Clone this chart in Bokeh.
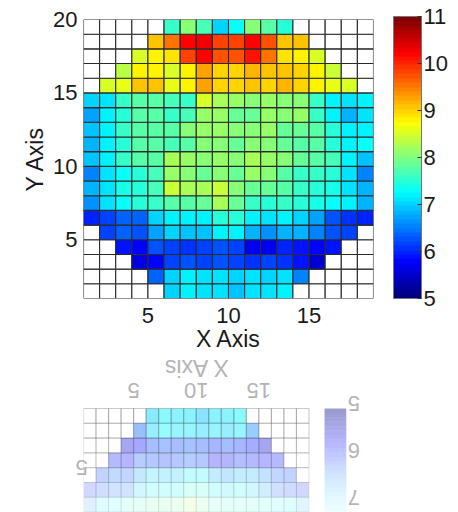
import numpy as np
from bokeh.plotting import figure
from bokeh.models import (ColumnDataSource, LinearColorMapper, ColorBar, FixedTicker, Range1d)
from bokeh.transform import transform
from bokeh.layouts import column
from bokeh.embed import file_html
from bokeh.resources import INLINE
from bokeh.core.properties import value

N = None
# cells: columns x = 1..18 (each spans [x, x+1]); rows y = 1..19 (each spans [y, y+1])
col_x = list(range(1, 19))
row_19 = [N, N, N, N, N, 7.55, 8.0, 7.7, 7.0, 7.3, 8.0, 7.75, 7.5, N, N, N, N, N]
row_18 = [N, N, N, N, 9.1, 9.5, 10.2, 10.3, 9.8, 9.8, 10.2, 9.7, 9.1, 9.1, N, N, N, N]
row_17 = [N, N, N, 8.5, 8.8, 8.9, 9.8, 10.2, 9.7, 9.7, 10.1, 9.5, 8.9, 8.8, 8.5, N, N, N]
row_16 = [N, N, 8.3, 8.8, 8.8, 8.5, 8.8, 9.3, 9.0, 9.0, 9.2, 9.1, 9.1, 9.0, 8.8, 8.4, N, N]
row_15 = [N, 8.5, 8.6, 9.1, 9.1, 8.6, 8.8, 9.3, 9.0, 9.0, 9.1, 9.0, 9.2, 9.0, 8.8, 8.6, 8.5, N]
row_14 = [7.0, 7.1, 7.55, 7.8, 7.8, 7.7, 7.6, 8.5, 8.2, 8.1, 8.0, 8.1, 8.0, 8.0, 7.6, 7.2, 7.1, 7.2]
row_13 = [6.7, 7.2, 7.5, 7.8, 7.8, 7.6, 7.7, 8.1, 8.1, 7.9, 7.9, 8.1, 8.0, 8.1, 7.6, 7.2, 6.8, 7.1]
row_12 = [6.9, 7.2, 7.6, 7.8, 7.8, 7.8, 8.0, 8.1, 8.1, 8.0, 8.0, 8.1, 7.9, 7.9, 7.8, 7.5, 7.2, 7.2]
row_11 = [6.8, 7.2, 7.5, 7.8, 7.8, 7.7, 7.8, 8.0, 8.0, 7.9, 8.0, 8.0, 7.9, 7.8, 7.8, 7.5, 7.2, 7.3]
row_10 = [6.9, 7.2, 7.6, 7.8, 7.8, 8.2, 8.1, 8.0, 8.1, 8.0, 8.2, 8.1, 8.0, 7.9, 7.8, 7.7, 7.2, 6.9]
row_9 = [6.5, 7.1, 7.3, 7.5, 7.7, 8.1, 8.0, 7.9, 8.0, 7.9, 8.1, 8.0, 7.8, 7.6, 7.6, 7.5, 7.1, 6.5]
row_8 = [6.8, 7.1, 7.4, 7.5, 7.7, 8.4, 8.2, 8.2, 8.4, 8.0, 7.9, 7.9, 7.8, 7.6, 7.5, 7.4, 7.1, 6.8]
row_7 = [6.6, 7.1, 7.3, 7.5, 7.6, 7.8, 7.8, 7.9, 8.2, 7.9, 7.6, 7.5, 7.6, 7.5, 7.4, 7.3, 7.2, 6.8]
row_6 = [6.0, 6.2, 6.4, 6.4, 7.0, 7.2, 7.2, 7.2, 7.5, 7.5, 7.2, 7.1, 7.2, 7.0, 6.7, 6.3, 6.1, 6.0]
row_5 = [N, 6.2, 6.4, 6.3, 6.7, 7.0, 6.9, 6.9, 7.2, 7.2, 6.8, 6.6, 6.8, 6.8, 6.5, 6.3, 6.2, N]
row_4 = [N, N, 5.9, 5.8, 6.3, 6.2, 6.1, 6.2, 6.3, 6.2, 5.7, 5.7, 6.0, 5.9, 5.8, 5.9, N, N]
row_3 = [N, N, N, 5.6, 5.8, 6.2, 6.3, 6.2, 6.3, 6.2, 6.1, 6.2, 6.1, 5.9, 5.5, N, N, N]
row_2 = [N, N, N, N, 6.4, 7.0, 7.2, 7.1, 7.1, 7.0, 7.1, 7.0, 7.1, 6.5, N, N, N, N]
row_1 = [N, N, N, N, N, 7.0, 7.2, 7.1, 7.1, 6.9, 7.1, 7.1, 7.2, N, N, N, N, N]
rows = {1: row_1, 2: row_2, 3: row_3, 4: row_4, 5: row_5, 6: row_6, 7: row_7, 8: row_8,
        9: row_9, 10: row_10, 11: row_11, 12: row_12, 13: row_13, 14: row_14, 15: row_15,
        16: row_16, 17: row_17, 18: row_18, 19: row_19}

x_ticks = [5, 10, 15]
y_ticks = [5, 10, 15, 20]
cbar_ticks = [5, 6, 7, 8, 9, 10, 11]
z_low, z_high = 5, 11
x_title, y_title = "X Axis", "Y Axis"


def jet(n=64):
    out = []
    for i in range(n):
        t = i / (n - 1)
        r = min(max(1.5 - abs(4 * t - 3), 0), 1)
        g = min(max(1.5 - abs(4 * t - 2), 0), 1)
        b = min(max(1.5 - abs(4 * t - 1), 0), 1)
        out.append("#%02x%02x%02x" % (int(r * 255), int(g * 255), int(b * 255)))
    return out


PAL = jet(64)
mapper = LinearColorMapper(palette=PAL, low=z_low, high=z_high, nan_color="white")

L, Rt, B, T, Z = [], [], [], [], []
for yy, vals in rows.items():
    for xx, v in zip(col_x, vals):
        L.append(xx); Rt.append(xx + 1); B.append(yy); T.append(yy + 1)
        Z.append(np.nan if v is None else v)

FONT = "Liberation Sans"
TXT = "#1a1a1a"
GHOST = "#b4b4b4"
W = 458
H_MAIN = 354
H_REF = 158
FR_L, FR_T = 83, 19
FR_W, FR_H = 290, 281
CB_GAP, CB_W, CB_H = 20, 28, 282
x0, x1 = min(col_x), max(col_x) + 1
y0, y1 = 1, len(rows) + 1

# ---------------- main chart ----------------
src = ColumnDataSource(dict(left=L, right=Rt, bottom=B, top=T, z=Z))
p = figure(width=W, height=H_MAIN, x_range=Range1d(x0, x1), y_range=Range1d(y0, y1),
           output_backend="svg", toolbar_location=None,
           min_border_left=FR_L, min_border_top=FR_T,
           min_border_right=W - FR_L - FR_W, min_border_bottom=H_MAIN - FR_T - FR_H)
p.outline_line_color = None
p.grid.visible = False
p.quad(left="left", right="right", bottom="bottom", top="top", source=src,
       fill_color=transform("z", mapper), line_color="#2b2b2b", line_width=1.1)

for ax in (p.xaxis[0], p.yaxis[0]):
    ax.major_label_text_font = FONT
    ax.major_label_text_font_size = "22px"
    ax.major_label_text_color = TXT
    ax.axis_label_text_font = FONT
    ax.axis_label_text_font_size = "23px"
    ax.axis_label_text_font_style = "normal"
    ax.axis_label_text_color = TXT
    ax.major_tick_line_color = None
    ax.minor_tick_line_color = None
    ax.axis_line_color = None
p.xaxis.ticker = FixedTicker(ticks=x_ticks)
p.yaxis.ticker = FixedTicker(ticks=y_ticks)
p.xaxis.axis_label = x_title
p.yaxis.axis_label = y_title
p.xaxis.major_label_standoff = 3
p.xaxis.axis_label_standoff = 0
p.yaxis.major_label_standoff = 0
p.yaxis.axis_label_standoff = 2

cb = ColorBar(color_mapper=mapper, ticker=FixedTicker(ticks=cbar_ticks), width=CB_W, height=CB_H,
              padding=0, margin=0, location=(CB_GAP, 0), label_standoff=2,
              major_label_text_font=FONT, major_label_text_font_size="22px",
              major_label_text_color=TXT, major_tick_line_color="#333333",
              major_tick_in=4, bar_line_color="#777777", background_fill_alpha=0,
              border_line_color=None)
p.add_layout(cb, "right")

# ---------------- reflection (faded mirror below) ----------------
px_x = FR_W / (x1 - x0)
px_y = FR_H / (y1 - y0)
gap_top = H_MAIN - (FR_T + FR_H)        # distance of the grid edge from the mirror line
RF_R = 2
rf_w = W - FR_L - RF_R
rx1 = x0 + rf_w / px_x
ry_top = y0 - gap_top / px_y
ry_bot = y0 + (H_REF - gap_top) / px_y


def fade(yv):
    return max(0.46 - 0.056 * (yv - y0), 0.04)


A = [fade(b) for b in B]
LA = [0.55 * a for a in A]
rsrc = ColumnDataSource(dict(left=L, right=Rt, bottom=B, top=T, z=Z, a=A, la=LA))
r = figure(width=W, height=H_REF, x_range=Range1d(x0, rx1), y_range=Range1d(ry_bot, ry_top),
           output_backend="svg", toolbar_location=None,
           min_border_left=FR_L, min_border_top=0, min_border_right=RF_R, min_border_bottom=0)
r.outline_line_color = None
r.grid.visible = False
r.xaxis.visible = False
r.quad(left="left", right="right", bottom="bottom", top="top", source=rsrc,
       fill_color=transform("z", mapper), fill_alpha="a", line_color="#2b2b2b",
       line_alpha="la", line_width=1.1)

# mirrored colorbar drawn from the same palette
cb_px_per_unit = CB_H / (z_high - z_low)
cb_l = x0 + (FR_W + CB_GAP) / px_x
cb_r = cb_l + CB_W / px_x
levels = np.linspace(z_low, z_high, len(PAL) + 1)
cyb = [y0 + (lv - z_low) * cb_px_per_unit / px_y for lv in levels[:-1]]
cyt = [y0 + (lv - z_low) * cb_px_per_unit / px_y for lv in levels[1:]]
csrc = ColumnDataSource(dict(b=cyb, t=cyt, c=PAL, a=[fade(v) * 0.85 for v in cyb]))
r.quad(left=cb_l, right=cb_r, bottom="b", top="t", fill_color="c", fill_alpha="a",
       line_color=None, source=csrc)
tk = [v for v in cbar_ticks if v <= 7]
tsrc = ColumnDataSource(dict(x=[cb_r + 2 / px_x] * len(tk),
                             y=[y0 + (v - z_low) * cb_px_per_unit / px_y for v in tk],
                             t=[str(v) for v in tk]))
r.text(x="x", y="y", text="t", source=tsrc, angle=np.pi, text_align="right",
       text_baseline="middle", text_font=value(FONT), text_font_size="22px",
       text_color=GHOST, y_offset=-5)

# mirrored x tick labels and x title
xsrc = ColumnDataSource(dict(x=x_ticks, y=[y0 - 18 / px_y] * len(x_ticks),
                             t=[str(v) for v in x_ticks]))
r.text(x="x", y="y", text="t", source=xsrc, angle=np.pi, text_align="center",
       text_baseline="middle", text_font=value(FONT), text_font_size="22px",
       text_color=GHOST)
r.text(x=[(x0 + x1) / 2], y=[y0 - 41 / px_y], text=[x_title], angle=np.pi,
       text_align="center", text_baseline="middle", text_font=value(FONT),
       text_font_size="23px", text_color=GHOST)

ya = r.yaxis[0]
ya.ticker = FixedTicker(ticks=y_ticks)
ya.major_label_text_font = FONT
ya.major_label_text_font_size = "22px"
ya.major_label_text_color = GHOST
ya.major_label_orientation = np.pi
ya.major_label_standoff = 2
ya.major_tick_line_color = None
ya.minor_tick_line_color = None
ya.axis_line_color = None

layout = column(p, r, spacing=0)
open("out.html", "w").write(file_html(layout, INLINE))
